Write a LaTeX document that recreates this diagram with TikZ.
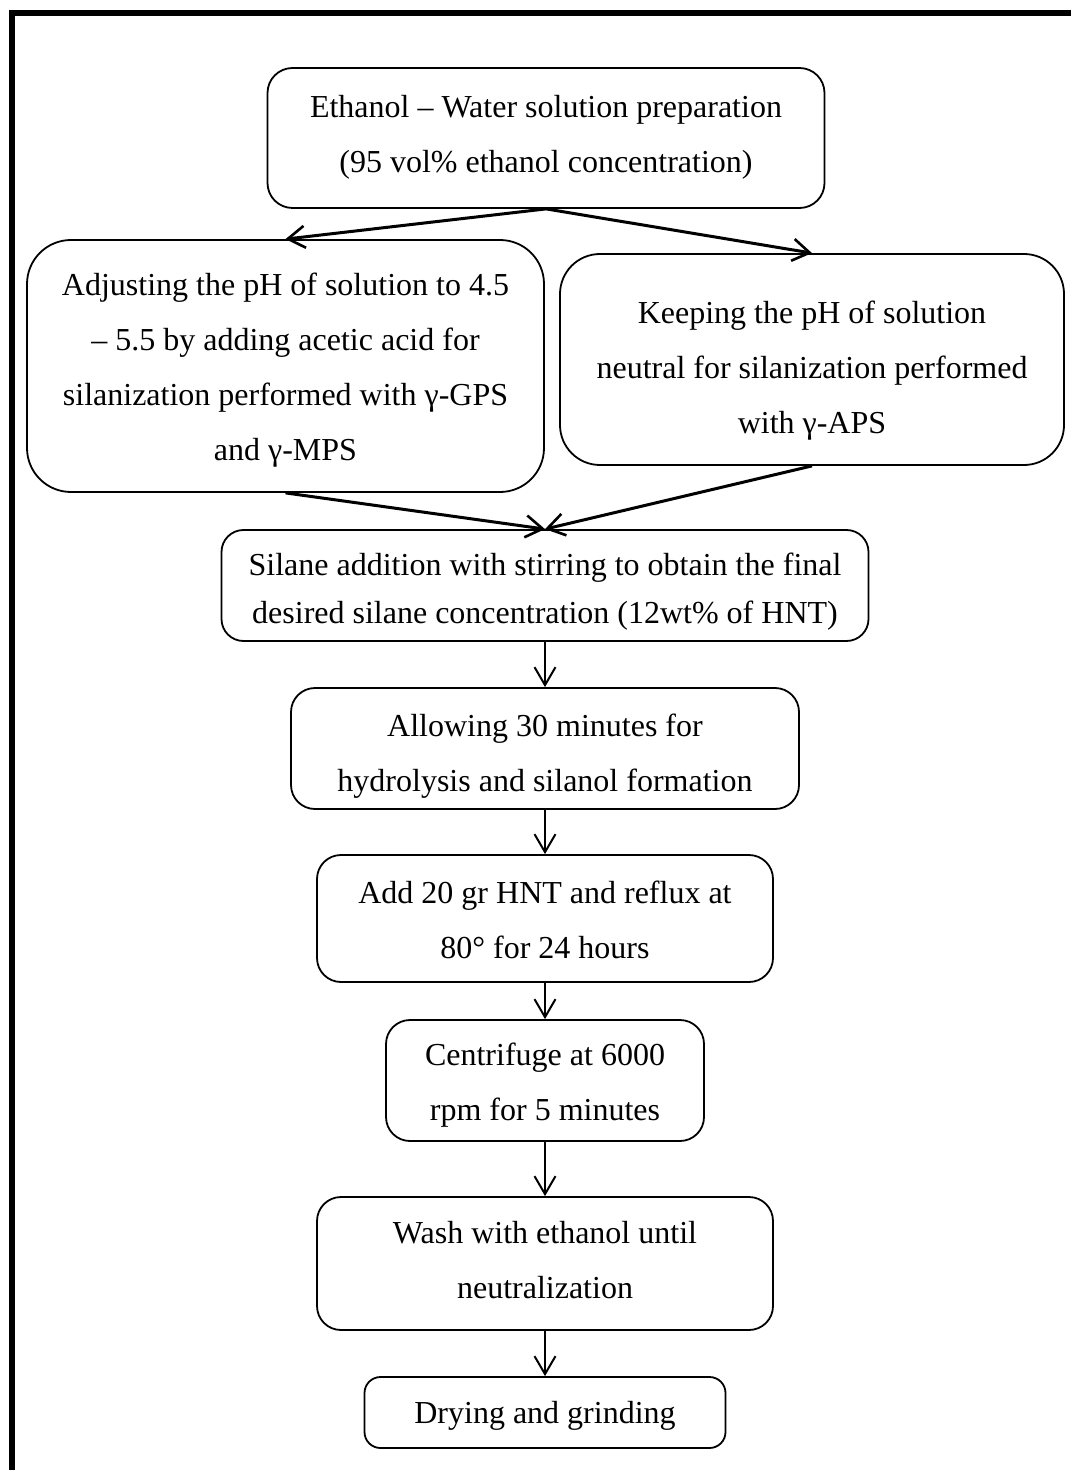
\documentclass[tikz,border=0pt]{standalone}
\usepackage{fontspec}
\setmainfont{Liberation Serif}
\usetikzlibrary{arrows.meta}
\tikzset{
  stepbox/.style={draw, line width=0.9pt, inner sep=0pt},
  steptext/.style={align=center, inner sep=0pt, font=\fontsize{16}{27.5}\selectfont},
  flow/.style={line width=1pt, -{Straight Barb[length=9pt,width=10.5pt,line width=1pt]}},
  split/.style={line width=1.5pt, -{Straight Barb[length=8.5pt,width=11pt,line width=1.3pt]}},
  frameline/.style={line width=3pt, line cap=rect}
}
\begin{document}
\begin{tikzpicture}[x=0.5pt,y=-0.5pt]
\useasboundingbox (0,0) rectangle (1070,1470);
\draw[frameline] (11.5,1475) -- (11.5,13) -- (1075,13);

\node[stepbox, rounded corners=12.5pt, minimum width=278.5pt, minimum height=70pt] (eth) at (546,138) {};
\node[steptext] (ethtxt) at (546,137)
  {Ethanol – Water solution preparation\\(95 vol\% ethanol concentration)};

\node[stepbox, rounded corners=22pt, minimum width=258.5pt, minimum height=126pt] (left) at (285.5,366) {};
\node[steptext] (lefttxt) at (285.5,370.5)
  {Adjusting the pH of solution to 4.5\\– 5.5 by adding acetic acid for\\silanization performed with γ-GPS\\and γ-MPS};

\node[stepbox, rounded corners=20pt, minimum width=252pt, minimum height=105.5pt] (right) at (812,359.5) {};
\node[steptext] (righttxt) at (812,371)
  {Keeping the pH of solution\\neutral for silanization performed\\with γ-APS};

\node[stepbox, rounded corners=11pt, minimum width=323.5pt, minimum height=55.5pt] (sil) at (545,585.5) {};
\node[steptext, font=\fontsize{16}{24}\selectfont] (siltxt) at (545,592)
  {Silane addition with stirring to obtain the final\\desired silane concentration (12wt\% of HNT)};

\node[stepbox, rounded corners=12pt, minimum width=254pt, minimum height=60.5pt] (allow) at (545,748.5) {};
\node[steptext] (allowtxt) at (545,756)
  {Allowing 30 minutes for\\hydrolysis and silanol formation};

\node[stepbox, rounded corners=12pt, minimum width=228pt, minimum height=63.5pt] (add) at (545,918.5) {};
\node[steptext] (addtxt) at (545,920)
  {Add 20 gr HNT and reflux at\\80° for 24 hours};

\node[stepbox, rounded corners=12pt, minimum width=159pt, minimum height=60.5pt] (cent) at (545,1080.5) {};
\node[steptext] (centtxt) at (545,1085.5)
  {Centrifuge at 6000\\rpm for 5 minutes};

\node[stepbox, rounded corners=12pt, minimum width=228pt, minimum height=66.5pt] (wash) at (545,1263.5) {};
\node[steptext] (washtxt) at (545,1260.5)
  {Wash with ethanol until\\neutralization};

\node[stepbox, rounded corners=8pt, minimum width=180.5pt, minimum height=35.5pt] (dry) at (545,1412.5) {};
\node[steptext] (drytxt) at (545,1415.5)
  {Drying and grinding};

\draw[split] (eth.south) -- (left.north);
\draw[split] (eth.south) -- (right.north);
\draw[split] (left.south) -- (sil.north);
\draw[split] (right.south) -- (sil.north);
\draw[flow] (sil.south) -- (allow.north);
\draw[flow] (allow.south) -- (add.north);
\draw[flow] (add.south) -- (cent.north);
\draw[flow] (cent.south) -- (wash.north);
\draw[flow] (wash.south) -- (dry.north);
\end{tikzpicture}
\end{document}
